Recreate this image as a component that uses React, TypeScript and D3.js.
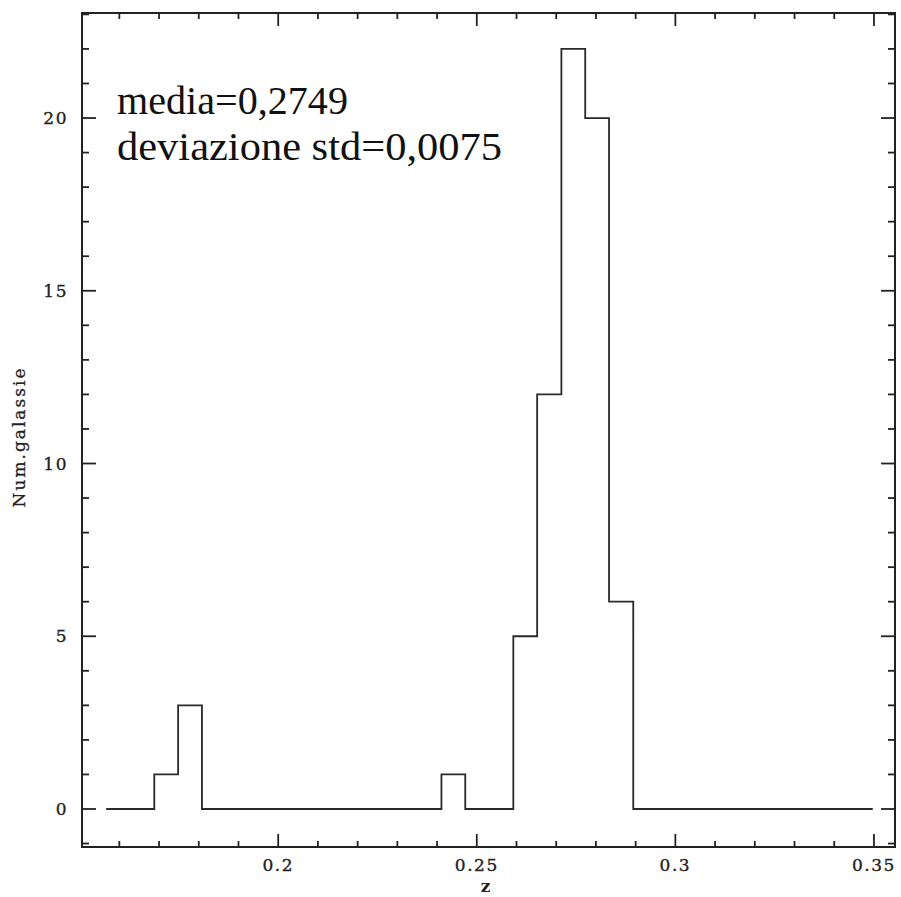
import React from 'react';
import * as d3 from 'd3';

// bin edges of the redshift histogram (33 edges -> 32 bins)
const binEdges = [
  0.1567, 0.1627, 0.1688, 0.1748, 0.1808, 0.1869, 0.1929, 0.1989, 0.2049, 0.2110,
  0.2170, 0.2230, 0.2291, 0.2351, 0.2411, 0.2471, 0.2532, 0.2592, 0.2652, 0.2713,
  0.2773, 0.2833, 0.2894, 0.2954, 0.3014, 0.3074, 0.3135, 0.3195, 0.3255, 0.3316,
  0.3376, 0.3436, 0.3497,
];
const binCounts = [
  0, 0, 1, 3, 0, 0, 0, 0, 0, 0,
  0, 0, 0, 0, 1, 0, 0, 5, 12, 22,
  20, 6, 0, 0, 0, 0, 0, 0, 0, 0,
  0, 0,
];

const xMajorTicks = [0.2, 0.25, 0.3, 0.35];
const xTickLabels = ['0.2', '0.25', '0.3', '0.35'];
const yMajorTicks = [0, 5, 10, 15, 20];
const yTickLabels = ['0', '5', '10', '15', '20'];

const statLines = ['media=0,2749', 'deviazione std=0,0075'];
const xTitle = 'z';
const yTitle = 'Num.galassie';

const W = 901;
const H = 897;
const frame = { left: 82, right: 895, top: 13, bottom: 847 };
const ink = '#222';
const axisFont = '"DejaVu Serif", serif';
const statFont = '"Liberation Serif", "DejaVu Serif", serif';

const App = () => {
  const x = d3.scaleLinear().domain([0.1506, 0.3553]).range([frame.left, frame.right]);
  const y = d3.scaleLinear().domain([-1.1, 23.04]).range([frame.bottom, frame.top]);

  const xMinor = x.ticks(20).filter(t => !xMajorTicks.some(m => Math.abs(m - t) < 1e-9));
  const yMinor = y.ticks(25).filter(t => !yMajorTicks.includes(t));

  // step outline of the histogram
  const pts: [number, number][] = binEdges.map((e, i) => [e, binCounts[Math.min(i, binCounts.length - 1)]]);
  const stepLine = d3
    .line<[number, number]>()
    .x(d => x(d[0]))
    .y(d => y(d[1]))
    .curve(d3.curveStepAfter);

  const tick = (x1: number, y1: number, x2: number, y2: number, key: string) => (
    <line key={key} x1={x1} y1={y1} x2={x2} y2={y2} stroke={ink} strokeWidth={1.8} />
  );

  return (
    <svg
      width={W}
      height={H}
      style={{ position: 'absolute', left: 0, top: 0, background: '#fff' }}
    >
      <rect x={0} y={0} width={W} height={H} fill="#fff" />

      {/* ticks on all four sides, pointing inward */}
      {xMajorTicks.map((t, i) => (
        <g key={'xM' + i}>
          {tick(x(t), frame.bottom, x(t), frame.bottom - 13, 'b')}
          {tick(x(t), frame.top, x(t), frame.top + 13, 't')}
        </g>
      ))}
      {xMinor.map((t, i) => (
        <g key={'xm' + i}>
          {tick(x(t), frame.bottom, x(t), frame.bottom - 6, 'b')}
          {tick(x(t), frame.top, x(t), frame.top + 6, 't')}
        </g>
      ))}
      {yMajorTicks.map((t, i) => (
        <g key={'yM' + i}>
          {tick(frame.left, y(t), frame.left + 14, y(t), 'l')}
          {tick(frame.right, y(t), frame.right - 14, y(t), 'r')}
        </g>
      ))}
      {yMinor.map((t, i) => (
        <g key={'ym' + i}>
          {tick(frame.left, y(t), frame.left + 7, y(t), 'l')}
          {tick(frame.right, y(t), frame.right - 7, y(t), 'r')}
        </g>
      ))}

      {/* frame */}
      <rect
        x={frame.left}
        y={frame.top}
        width={frame.right - frame.left}
        height={frame.bottom - frame.top}
        fill="none"
        stroke={ink}
        strokeWidth={2}
      />

      {/* histogram */}
      <path d={stepLine(pts) || ''} fill="none" stroke="#2a2a2a" strokeWidth={1.8} />

      {/* tick labels */}
      {xMajorTicks.map((t, i) => (
        <text
          key={'xl' + i}
          x={x(t)}
          y={871}
          textAnchor="middle"
          fontFamily={axisFont}
          fontSize={17}
          letterSpacing={1.5}
          fill={ink}
          stroke={ink}
          strokeWidth={0.35}
        >
          {xTickLabels[i]}
        </text>
      ))}
      {yMajorTicks.map((t, i) => (
        <text
          key={'yl' + i}
          x={68}
          y={y(t)}
          dy="0.36em"
          textAnchor="end"
          fontFamily={axisFont}
          fontSize={17}
          letterSpacing={1.5}
          fill={ink}
          stroke={ink}
          strokeWidth={0.35}
        >
          {yTickLabels[i]}
        </text>
      ))}

      {/* axis titles */}
      <text
        x={(frame.left + frame.right) / 2 - 3}
        y={892}
        textAnchor="middle"
        fontFamily={axisFont}
        fontSize={17}
        fontWeight="bold"
        fill={ink}
      >
        {xTitle}
      </text>
      <text
        transform={`translate(25, ${(frame.top + frame.bottom) / 2 + 7}) rotate(-90)`}
        textAnchor="middle"
        fontFamily={axisFont}
        fontSize={17}
        letterSpacing={2}
        fill={ink}
        stroke={ink}
        strokeWidth={0.3}
      >
        {yTitle}
      </text>

      {/* statistics */}
      <text
        x={117}
        y={114}
        fontFamily={statFont}
        fontSize={41}
        textLength={231}
        lengthAdjust="spacingAndGlyphs"
        fill="#111"
      >
        {statLines[0]}
      </text>
      <text
        x={117}
        y={160}
        fontFamily={statFont}
        fontSize={41}
        textLength={385}
        lengthAdjust="spacingAndGlyphs"
        fill="#111"
      >
        {statLines[1]}
      </text>
    </svg>
  );
};

export default App;
